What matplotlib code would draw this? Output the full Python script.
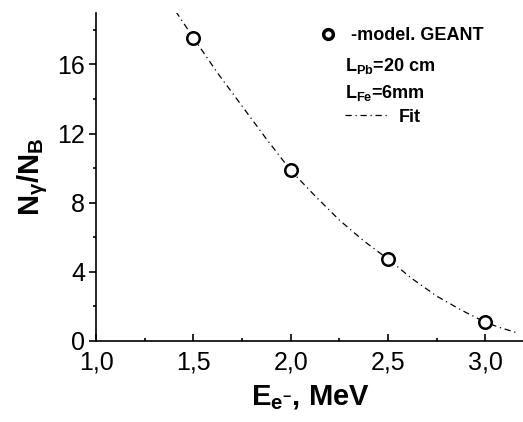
import matplotlib.pyplot as plt
from matplotlib.lines import Line2D
from matplotlib.ticker import MultipleLocator, FuncFormatter

plt.rcParams['font.family'] = ['Liberation Sans', 'DejaVu Sans']
plt.rcParams['mathtext.fontset'] = 'custom'
plt.rcParams['mathtext.rm'] = 'Liberation Sans:bold'
plt.rcParams['mathtext.bf'] = 'Liberation Sans:bold'
plt.rcParams['mathtext.it'] = 'Liberation Sans:bold'

# GEANT model points
energy = [1.5, 2.0, 2.5, 3.0]
ratio = [17.55, 9.88, 4.74, 1.08]

# fit curve, sampled
fit_energy = [1.41, 1.5, 1.625, 1.75, 1.875, 2.0, 2.125, 2.25, 2.375, 2.5,
              2.625, 2.75, 2.875, 3.0, 3.075, 3.155]
fit_ratio = [19.07, 17.55, 15.5, 13.6, 11.7, 9.88, 8.4, 7.0, 5.8, 4.74,
             3.6, 2.6, 1.8, 1.08, 0.78, 0.5]

fit_style = (0, (5, 3, 1, 3))

fig = plt.figure(figsize=(5.23, 4.22), dpi=100)
ax = fig.add_axes([0.1836, 0.192, 0.8186, 0.778])

ax.plot(fit_energy, fit_ratio, color='black', lw=0.9, ls=fit_style)
ax.plot(energy, ratio, 'o', ms=9, mfc='white', mec='black', mew=1.8)

ax.set_xlim(1.0, 3.2)
ax.set_ylim(0, 19)
ax.spines['top'].set_visible(False)
ax.spines['right'].set_visible(False)
for s in ('left', 'bottom'):
    ax.spines[s].set_linewidth(1.2)

ax.xaxis.set_major_locator(MultipleLocator(0.5))
ax.xaxis.set_minor_locator(MultipleLocator(0.25))
ax.yaxis.set_major_locator(MultipleLocator(4))
ax.yaxis.set_minor_locator(MultipleLocator(2))
ax.xaxis.set_major_formatter(FuncFormatter(lambda v, p: f'{v:.1f}'.replace('.', ',')))
ax.tick_params(axis='x', which='major', direction='in', length=5, width=1.2, labelsize=18, pad=7)
ax.tick_params(axis='x', which='minor', direction='in', length=2.5, width=1.2)
ax.tick_params(axis='y', which='major', direction='out', length=5, width=1.2, labelsize=18, pad=3)
ax.tick_params(axis='y', which='minor', direction='out', length=2.5, width=1.2)

ax.set_xlabel(r'E$_{\mathregular{e^{-}}}$, MeV', fontsize=21, fontweight='bold', labelpad=6)
ax.set_ylabel(r'N$_{\gamma}$/N$_{\mathregular{B}}$', fontsize=21, fontweight='bold', labelpad=5)

h_model = Line2D([], [], ls='none', marker='o', ms=7, mfc='white', mec='black', mew=2.5)
leg1 = ax.legend([h_model], ['-model. GEANT'], loc='center left',
                 bbox_to_anchor=(0.521, 0.929), frameon=False, borderpad=0,
                 borderaxespad=0, handlelength=1.0, handletextpad=0.78,
                 prop={'weight': 'bold', 'size': 13})
ax.add_artist(leg1)

ax.text(0.5816, 0.838, r'L$_{\mathregular{Pb}}$=20 cm', transform=ax.transAxes,
        fontsize=13, fontweight='bold', va='center')
ax.text(0.5816, 0.755, r'L$_{\mathregular{Fe}}$=6mm', transform=ax.transAxes,
        fontsize=13, fontweight='bold', va='center')

h_fit = Line2D([], [], color='black', lw=0.9, ls=fit_style)
ax.legend([h_fit], ['Fit'], loc='center left', bbox_to_anchor=(0.5816, 0.682),
          frameon=False, borderpad=0, borderaxespad=0, handlelength=2.3,
          handletextpad=0.67, prop={'weight': 'bold', 'size': 13})

fig.savefig('out.png', dpi=100)
